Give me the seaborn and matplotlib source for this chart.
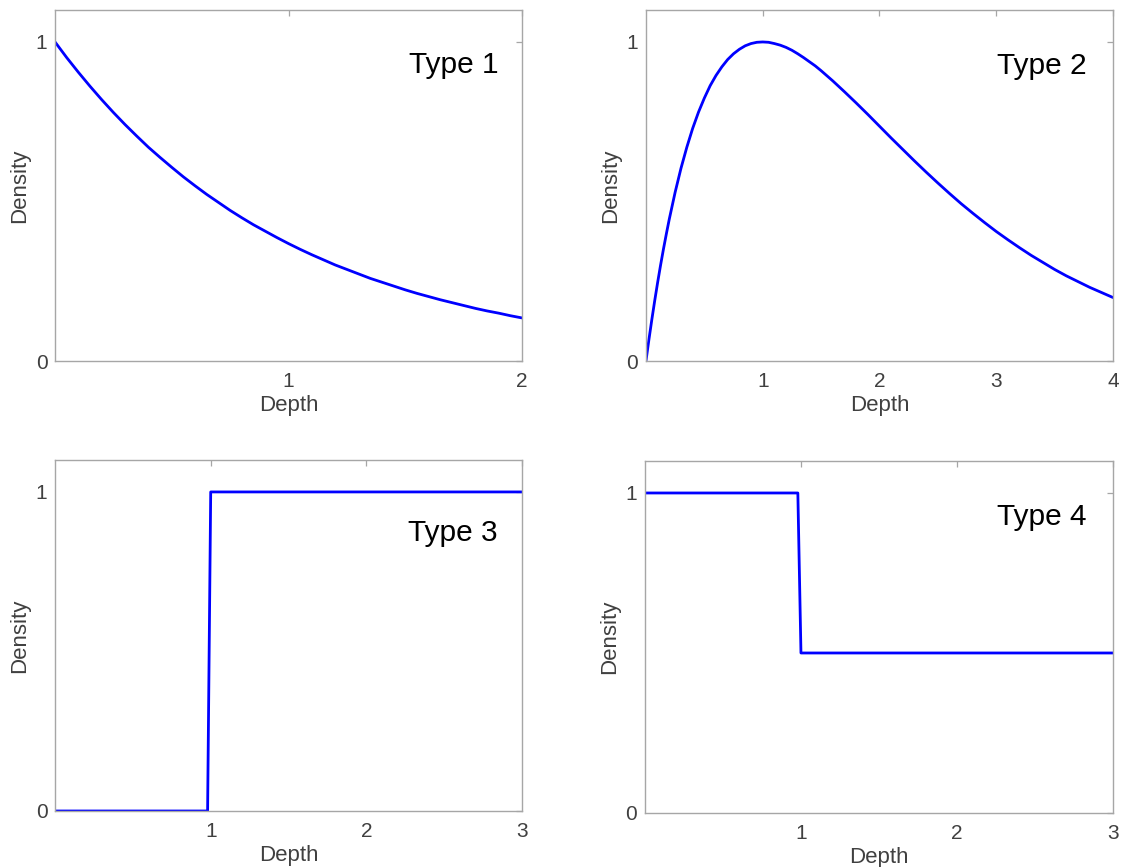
import matplotlib
matplotlib.use("Agg")
import matplotlib.pyplot as plt
import seaborn as sns

# ---- data -------------------------------------------------------------
# Type 1: decaying density profile
type1_depth = [0.00, 0.05, 0.10, 0.15, 0.20, 0.25, 0.30, 0.35, 0.40, 0.45,
               0.50, 0.55, 0.60, 0.65, 0.70, 0.75, 0.80, 0.85, 0.90, 0.95,
               1.00, 1.05, 1.10, 1.15, 1.20, 1.25, 1.30, 1.35, 1.40, 1.45,
               1.50, 1.55, 1.60, 1.65, 1.70, 1.75, 1.80, 1.85, 1.90, 1.95,
               2.00]
type1_density = [1.000, 0.951, 0.905, 0.861, 0.819, 0.779, 0.741, 0.705,
                 0.670, 0.638, 0.607, 0.577, 0.549, 0.522, 0.497, 0.472,
                 0.449, 0.427, 0.407, 0.387, 0.368, 0.350, 0.333, 0.317,
                 0.301, 0.287, 0.273, 0.259, 0.247, 0.235, 0.223, 0.212,
                 0.202, 0.192, 0.183, 0.174, 0.165, 0.157, 0.150, 0.142,
                 0.135]

# Type 2: density rising to a peak at depth 1, then decaying
type2_depth = [0.000, 0.025, 0.050, 0.075, 0.100, 0.125, 0.150, 0.175,
               0.20, 0.25, 0.30, 0.35, 0.40, 0.45, 0.50, 0.55, 0.60, 0.65,
               0.70, 0.75, 0.80, 0.85, 0.90, 0.95, 1.00, 1.05, 1.10, 1.15,
               1.20, 1.25, 1.30, 1.35, 1.40, 1.45, 1.50, 1.6, 1.7, 1.8,
               1.9, 2.0, 2.1, 2.2, 2.3, 2.4, 2.5, 2.6, 2.7, 2.8, 2.9, 3.0,
               3.1, 3.2, 3.3, 3.4, 3.5, 3.6, 3.7, 3.8, 3.9, 4.0]
type2_density = [0.000, 0.066, 0.129, 0.189, 0.246, 0.300, 0.351, 0.399,
                 0.445, 0.529, 0.604, 0.670, 0.729, 0.780, 0.824, 0.863,
                 0.895, 0.922, 0.945, 0.963, 0.977, 0.988, 0.995, 0.999,
                 1.000, 0.999, 0.995, 0.990, 0.983, 0.974, 0.963, 0.951,
                 0.938, 0.925, 0.910, 0.878, 0.844, 0.809, 0.773, 0.736,
                 0.699, 0.663, 0.627, 0.592, 0.558, 0.525, 0.493, 0.463,
                 0.434, 0.406, 0.380, 0.355, 0.331, 0.309, 0.287, 0.267,
                 0.249, 0.231, 0.215, 0.199]

# Type 3: step up at depth 1
type3_depth = [0.0, 0.98, 1.0, 3.0]
type3_density = [0.0, 0.0, 1.0, 1.0]

# Type 4: step down to half at depth 1
type4_depth = [0.0, 0.98, 1.0, 3.0]
type4_density = [1.0, 1.0, 0.5, 0.5]

panel_titles = ["Type 1", "Type 2", "Type 3", "Type 4"]
x_limits = [(0, 2), (0, 4), (0, 3), (0, 3)]
x_ticks = [[1, 2], [1, 2, 3, 4], [1, 2, 3], [1, 2, 3]]
y_ticks = [0, 1]

# ---- style ------------------------------------------------------------
sns.set_style("white")
plt.rcParams["font.family"] = ["Liberation Sans", "DejaVu Sans"]

EDGE = "#a6a6a6"
TICKTXT = "#404040"

fig = plt.figure(figsize=(11.23, 8.67), dpi=100)

# axes rectangles [left, bottom, width, height] in figure fractions
rects = [
    [0.0490, 0.5836, 0.4159, 0.4048],
    [0.5752, 0.5836, 0.4159, 0.4048],
    [0.0490, 0.0646, 0.4159, 0.4048],
    [0.5743, 0.0623, 0.4168, 0.4060],
]
# anchor (axes fraction, baseline) for each panel's "Type" text
label_pos = [(0.758, 0.8205), (0.752, 0.8177), (0.756, 0.769), (0.752, 0.818)]

series = [
    (type1_depth, type1_density),
    (type2_depth, type2_density),
    (type3_depth, type3_density),
    (type4_depth, type4_density),
]

for i, (xs, ys) in enumerate(series):
    ax = fig.add_axes(rects[i])
    sns.lineplot(x=xs, y=ys, ax=ax, color="#0000ff", linewidth=2.0,
                 estimator=None, sort=False)
    ax.set_xlim(*x_limits[i])
    ax.set_ylim(0, 1.1)
    ax.set_xticks(x_ticks[i])
    ax.set_yticks(y_ticks)
    ax.set_xticklabels([str(t) for t in x_ticks[i]])
    ax.set_yticklabels([str(t) for t in y_ticks])

    for sp in ax.spines.values():
        sp.set_visible(True)
        sp.set_color(EDGE)
        sp.set_linewidth(1.0)

    ax.tick_params(axis="both", which="both", direction="in", length=4,
                   width=0.9, color=EDGE, labelcolor=TICKTXT,
                   labelsize=15, top=True, right=True)
    ax.tick_params(axis="x", pad=8.0)
    ax.tick_params(axis="y", pad=5.5)

    ax.set_xlabel("Depth", fontsize=16, color=TICKTXT)
    ax.set_ylabel("Density", fontsize=16, color=TICKTXT)
    ax.xaxis.set_label_coords(0.5, -0.097)
    ax.yaxis.set_label_coords(-0.054, 0.5)

    tx, ty = label_pos[i]
    ax.text(tx, ty, panel_titles[i], transform=ax.transAxes,
            ha="left", va="baseline", fontsize=21.5, color="black")

fig.savefig("out.png", dpi=100)
